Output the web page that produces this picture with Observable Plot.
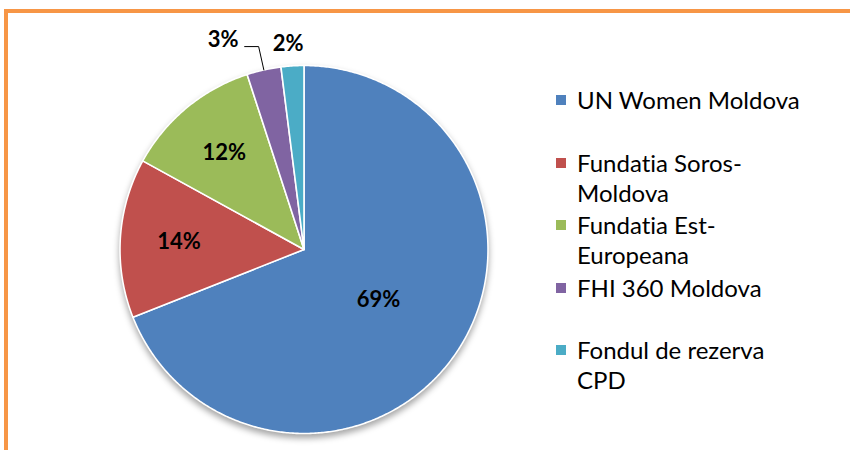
<!DOCTYPE html>
<html><head><meta charset="utf-8">
<script src="https://cdn.jsdelivr.net/npm/d3@7"></script>
<script src="https://cdn.jsdelivr.net/npm/@observablehq/plot@0.6"></script>
<style>
body{margin:0;background:#fff;font-family:Lato,"Open Sans",sans-serif;font-variant-ligatures:none;}
#wrap{position:relative;width:850px;height:450px;overflow:hidden;background:#fff;}
#chart{position:absolute;left:0;top:0;}
#chart text{font-variant-ligatures:none;}
#frame{position:absolute;left:4px;top:9px;width:900px;height:500px;border-top:4px solid #F79646;border-left:4px solid #F79646;box-sizing:border-box;pointer-events:none;}
#legend{position:absolute;left:556px;top:0;}
.item{position:absolute;left:0;display:flex;align-items:flex-start;}
.sw{width:10px;height:10px;margin-top:10px;flex:none;}
.tx{font-size:24px;line-height:30px;margin-left:11px;width:232px;color:#000;font-variant-ligatures:none;}
</style>
</head><body>
<div id="wrap"><div id="chart"></div><div id="legend"></div><div id="frame"></div></div>
<script>
const labels = ["UN Women Moldova","Fundatia Soros-Moldova","Fundatia Est-Europeana","FHI 360 Moldova","Fondul de rezerva CPD"];
const shares = [69, 14, 12, 3, 2];
const colors = ["#4F81BD","#C0504D","#9BBB59","#8064A2","#4BACC6"];

const total = d3.sum(shares);
const R = 184, cx = 303.5, cy = 249;
const pts = [], labelData = [], leader = [];
let acc = 0;
shares.forEach((v, i) => {
  const a0 = acc / total * 2 * Math.PI, a1 = (acc + v) / total * 2 * Math.PI;
  acc += v;
  pts.push({name: labels[i], x: 0, y: 0});
  const n = Math.max(2, Math.ceil((a1 - a0) / (Math.PI / 360)));
  for (let k = 0; k <= n; k++) {
    const a = a0 + (a1 - a0) * k / n;
    pts.push({name: labels[i], x: Math.sin(a), y: Math.cos(a)});
  }
  pts.push({name: labels[i], x: 0, y: 0});
  const am = (a0 + a1) / 2;
  const share = v / total;
  if (share >= 0.5) {
    labelData.push({x: 0.49 * Math.sin(am), y: 0.49 * Math.cos(am), text: v + "%", kind: "in"});
  } else if (share >= 0.05) {
    labelData.push({x: 0.68 * Math.sin(am), y: 0.68 * Math.cos(am), text: v + "%", kind: "in"});
  } else if (i === shares.length - 1) {
    labelData.push({x: 1.12 * Math.sin(am), y: 1.12 * Math.cos(am), text: v + "%", kind: "out"});
  } else {
    const ex = 1.13 * Math.sin(am), ey = 1.13 * Math.cos(am);
    leader.push({x: Math.sin(am), y: Math.cos(am)}, {x: ex, y: ey}, {x: ex - 14 / R, y: ey});
    labelData.push({x: ex - 14 / R, y: ey, text: v + "%", kind: "leader"});
  }
});

const txt = {x: "x", y: "y", text: "text", fontSize: 22, fontWeight: "bold", fill: "#000", fontFamily: "Lato"};
const plot = Plot.plot({
  width: 540, height: 450, margin: 0,
  x: {domain: [-1, 1], range: [cx - R, cx + R], axis: null},
  y: {domain: [-1, 1], range: [cy + R, cy - R], axis: null},
  color: {domain: labels, range: colors},
  style: {background: "transparent", overflow: "visible"},
  marks: [
    Plot.line(pts, {x: "x", y: "y", z: "name", fill: "name", stroke: "white", strokeWidth: 1.6, strokeLinejoin: "round", curve: "linear"}),
    Plot.line(leader, {x: "x", y: "y", stroke: "#000", strokeWidth: 1}),
    Plot.text(labelData.filter(d => d.kind === "in"), {...txt, textAnchor: "middle"}),
    Plot.text(labelData.filter(d => d.kind === "out"), {...txt, textAnchor: "middle", dx: -3}),
    Plot.text(labelData.filter(d => d.kind === "leader"), {...txt, textAnchor: "end", dx: -6, dy: -7})
  ]
});
const pie = plot.querySelector('g[aria-label="line"]');
if (pie) pie.style.filter = "drop-shadow(0px 4px 3px rgba(0,0,0,0.35))";
document.getElementById("chart").appendChild(plot);

const legend = document.getElementById("legend");
labels.forEach((l, i) => {
  const it = document.createElement("div");
  it.className = "item";
  it.style.top = (85 + i * 62.5) + "px";
  it.innerHTML = `<div class="sw" style="background:${colors[i]}"></div><div class="tx">${l}</div>`;
  legend.appendChild(it);
});
</script>
</body></html>
